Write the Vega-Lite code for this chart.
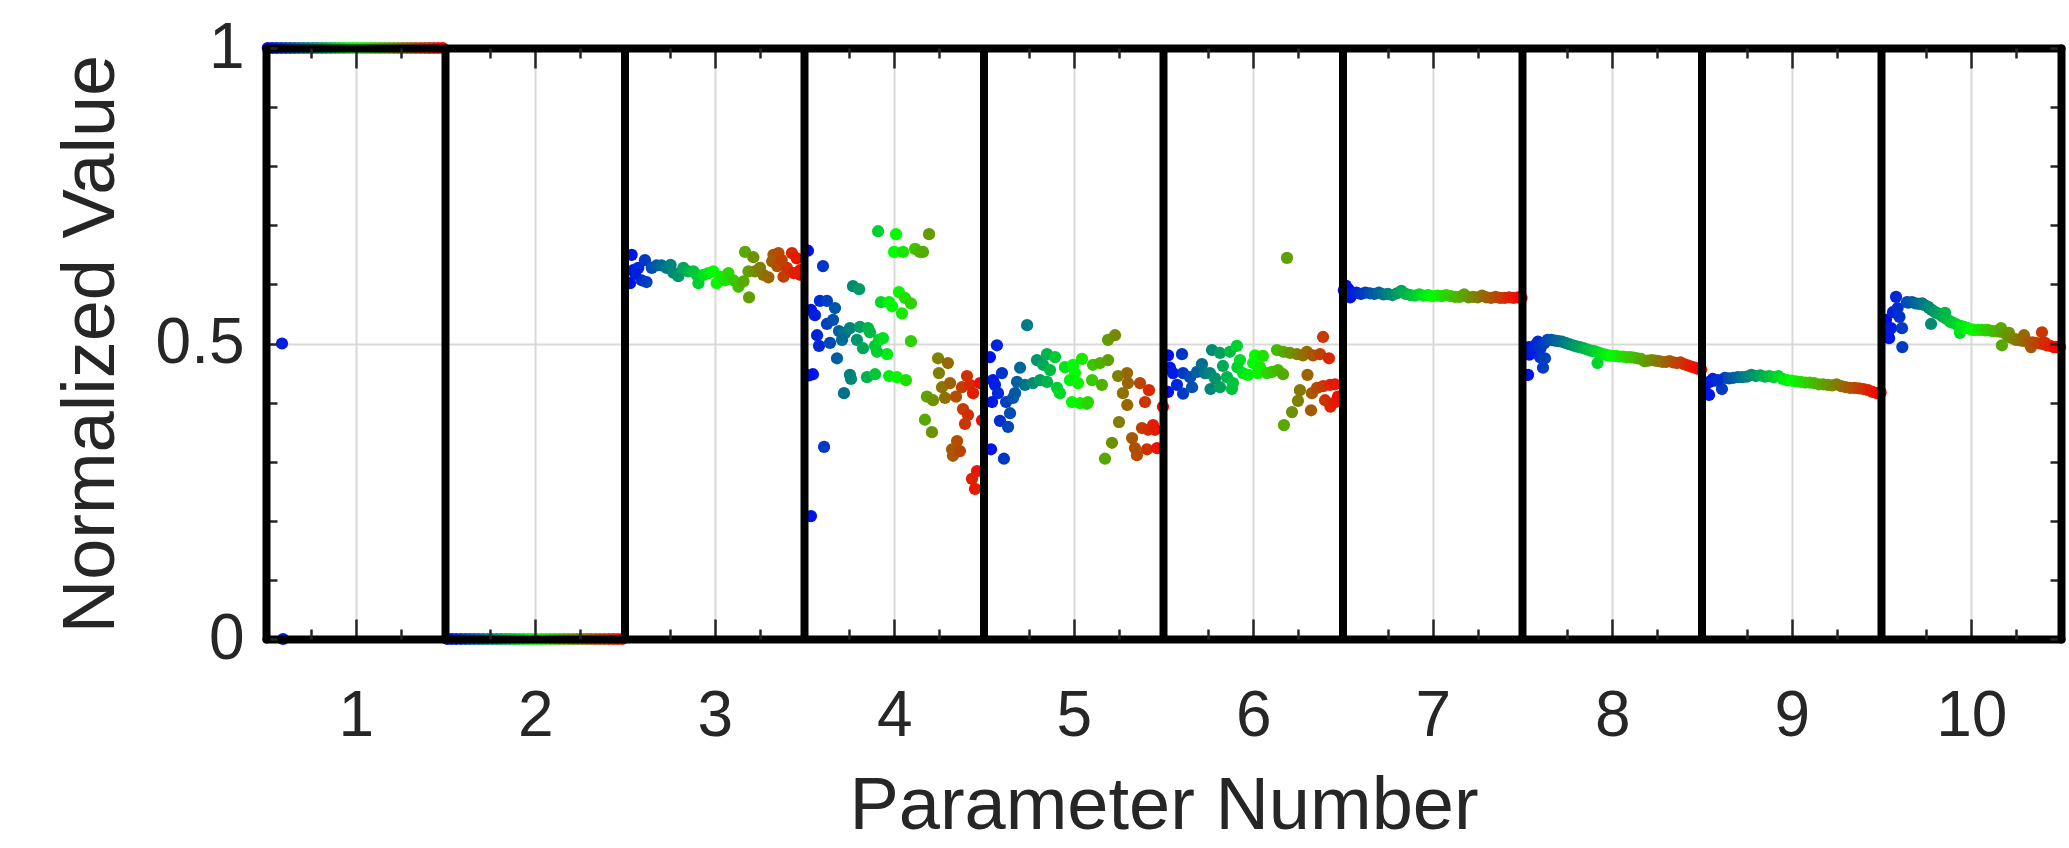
{
"$schema": "https://vega.github.io/schema/vega-lite/v6.json",
"width": 1795, "height": 591,
"autosize": {"type": "none"},
"padding": {"left": 266, "top": 48, "right": 8, "bottom": 209},
"background": "white",
"config": {"view": {"stroke": null}, "font": "Liberation Sans",
  "axis": {"labelFont": "Liberation Sans", "titleFont": "Liberation Sans", "labelColor": "#262626", "titleColor": "#262626", "titleFontWeight": "normal", "tickColor": "#262626", "labelFlush": false, "labelOverlap": false, "labelBound": false}},
"datasets": {
"div": [{"x":1.5},{"x":2.5},{"x":3.5},{"x":4.5},{"x":5.5},{"x":6.5},{"x":7.5},{"x":8.5},{"x":9.5}],
"pts": [
{"x":0.51,"y":1,"t":0.01},{"x":0.535,"y":1,"t":0.035},{"x":0.56,"y":1,"t":0.06},{"x":0.585,"y":1,"t":0.085},{"x":0.61,"y":1,"t":0.11},{"x":0.635,"y":1,"t":0.135},{"x":0.66,"y":1,"t":0.16},{"x":0.685,"y":1,"t":0.185},{"x":0.71,"y":1,"t":0.21},{"x":0.735,"y":1,"t":0.235},{"x":0.76,"y":1,"t":0.26},{"x":0.785,"y":1,"t":0.285},{"x":0.81,"y":1,"t":0.31},{"x":0.835,"y":1,"t":0.335},{"x":0.86,"y":1,"t":0.36},{"x":0.885,"y":1,"t":0.385},{"x":0.91,"y":1,"t":0.41},{"x":0.935,"y":1,"t":0.435},{"x":0.96,"y":1,"t":0.46},{"x":0.985,"y":1,"t":0.485},{"x":1.01,"y":1,"t":0.51},{"x":1.035,"y":1,"t":0.535},{"x":1.06,"y":1,"t":0.56},{"x":1.085,"y":1,"t":0.585},{"x":1.11,"y":1,"t":0.61},{"x":1.135,"y":1,"t":0.635},{"x":1.16,"y":1,"t":0.66},{"x":1.185,"y":1,"t":0.685},{"x":1.21,"y":1,"t":0.71},{"x":1.235,"y":1,"t":0.735},{"x":1.26,"y":1,"t":0.76},{"x":1.285,"y":1,"t":0.785},{"x":1.31,"y":1,"t":0.81},{"x":1.335,"y":1,"t":0.835},{"x":1.36,"y":1,"t":0.86},{"x":1.385,"y":1,"t":0.885},{"x":1.41,"y":1,"t":0.91},{"x":1.435,"y":1,"t":0.935},{"x":1.46,"y":1,"t":0.96},{"x":1.485,"y":1,"t":0.985},
{"x":0.589,"y":0.5,"t":0.06},{"x":0.595,"y":0,"t":0.06},
{"x":1.51,"y":0,"t":0.01},{"x":1.535,"y":0,"t":0.035},{"x":1.56,"y":0,"t":0.06},{"x":1.585,"y":0,"t":0.085},{"x":1.61,"y":0,"t":0.11},{"x":1.635,"y":0,"t":0.135},{"x":1.66,"y":0,"t":0.16},{"x":1.685,"y":0,"t":0.185},{"x":1.71,"y":0,"t":0.21},{"x":1.735,"y":0,"t":0.235},{"x":1.76,"y":0,"t":0.26},{"x":1.785,"y":0,"t":0.285},{"x":1.81,"y":0,"t":0.31},{"x":1.835,"y":0,"t":0.335},{"x":1.86,"y":0,"t":0.36},{"x":1.885,"y":0,"t":0.385},{"x":1.91,"y":0,"t":0.41},{"x":1.935,"y":0,"t":0.435},{"x":1.96,"y":0,"t":0.46},{"x":1.985,"y":0,"t":0.485},{"x":2.01,"y":0,"t":0.51},{"x":2.035,"y":0,"t":0.535},{"x":2.06,"y":0,"t":0.56},{"x":2.085,"y":0,"t":0.585},{"x":2.11,"y":0,"t":0.61},{"x":2.135,"y":0,"t":0.635},{"x":2.16,"y":0,"t":0.66},{"x":2.185,"y":0,"t":0.685},{"x":2.21,"y":0,"t":0.71},{"x":2.235,"y":0,"t":0.735},{"x":2.26,"y":0,"t":0.76},{"x":2.285,"y":0,"t":0.785},{"x":2.31,"y":0,"t":0.81},{"x":2.335,"y":0,"t":0.835},{"x":2.36,"y":0,"t":0.86},{"x":2.385,"y":0,"t":0.885},{"x":2.41,"y":0,"t":0.91},{"x":2.435,"y":0,"t":0.935},{"x":2.46,"y":0,"t":0.96},{"x":2.485,"y":0,"t":0.985},
{"x":2.537,"y":0.65,"t":0.037},{"x":2.546,"y":0.624,"t":0.046},{"x":2.528,"y":0.602,"t":0.028},{"x":2.574,"y":0.628,"t":0.074},{"x":2.611,"y":0.641,"t":0.111},{"x":2.593,"y":0.607,"t":0.093},{"x":2.62,"y":0.604,"t":0.12},{"x":2.556,"y":0.618,"t":0.056},{"x":2.649,"y":0.628,"t":0.149},{"x":2.676,"y":0.632,"t":0.176},{"x":2.704,"y":0.632,"t":0.204},{"x":2.732,"y":0.628,"t":0.232},{"x":2.754,"y":0.633,"t":0.254},{"x":2.769,"y":0.62,"t":0.269},{"x":2.797,"y":0.614,"t":0.297},{"x":2.825,"y":0.628,"t":0.325},{"x":2.853,"y":0.622,"t":0.353},{"x":2.881,"y":0.622,"t":0.381},{"x":2.909,"y":0.602,"t":0.409},{"x":2.9,"y":0.616,"t":0.4},{"x":2.937,"y":0.616,"t":0.437},{"x":2.965,"y":0.619,"t":0.465},{"x":2.992,"y":0.622,"t":0.492},{"x":3.011,"y":0.602,"t":0.511},{"x":3.029,"y":0.613,"t":0.529},{"x":3.057,"y":0.607,"t":0.557},{"x":3.076,"y":0.619,"t":0.576},{"x":3.104,"y":0.607,"t":0.604},{"x":3.132,"y":0.596,"t":0.632},{"x":3.16,"y":0.605,"t":0.66},{"x":3.169,"y":0.655,"t":0.669},{"x":3.215,"y":0.646,"t":0.715},{"x":3.191,"y":0.578,"t":0.691},{"x":3.188,"y":0.622,"t":0.688},{"x":3.224,"y":0.622,"t":0.724},{"x":3.252,"y":0.628,"t":0.752},{"x":3.271,"y":0.616,"t":0.771},{"x":3.299,"y":0.612,"t":0.799},{"x":3.327,"y":0.65,"t":0.827},{"x":3.355,"y":0.653,"t":0.855},{"x":3.32,"y":0.639,"t":0.82},{"x":3.348,"y":0.631,"t":0.848},{"x":3.383,"y":0.613,"t":0.883},{"x":3.402,"y":0.628,"t":0.902},{"x":3.43,"y":0.653,"t":0.93},{"x":3.457,"y":0.644,"t":0.957},{"x":3.475,"y":0.624,"t":0.975},{"x":3.478,"y":0.616,"t":0.978},{"x":3.44,"y":0.619,"t":0.94},{"x":3.373,"y":0.641,"t":0.873},
{"x":3.519,"y":0.657,"t":0.019},{"x":3.603,"y":0.631,"t":0.103},{"x":3.536,"y":0.557,"t":0.036},{"x":3.558,"y":0.548,"t":0.058},{"x":3.586,"y":0.572,"t":0.086},{"x":3.625,"y":0.572,"t":0.125},{"x":3.67,"y":0.56,"t":0.17},{"x":3.57,"y":0.514,"t":0.07},{"x":3.581,"y":0.496,"t":0.081},{"x":3.625,"y":0.533,"t":0.125},{"x":3.659,"y":0.54,"t":0.159},{"x":3.642,"y":0.501,"t":0.142},{"x":3.681,"y":0.475,"t":0.181},{"x":3.547,"y":0.448,"t":0.047},{"x":3.525,"y":0.446,"t":0.025},{"x":3.609,"y":0.325,"t":0.109},{"x":3.536,"y":0.208,"t":0.036},{"x":3.692,"y":0.521,"t":0.192},{"x":3.726,"y":0.518,"t":0.226},{"x":3.709,"y":0.506,"t":0.209},{"x":3.77,"y":0.597,"t":0.27},{"x":3.804,"y":0.592,"t":0.304},{"x":3.753,"y":0.526,"t":0.253},{"x":3.809,"y":0.528,"t":0.309},{"x":3.854,"y":0.526,"t":0.354},{"x":3.792,"y":0.506,"t":0.292},{"x":3.826,"y":0.492,"t":0.326},{"x":3.753,"y":0.447,"t":0.253},{"x":3.759,"y":0.44,"t":0.259},{"x":3.72,"y":0.416,"t":0.22},{"x":3.865,"y":0.519,"t":0.365},{"x":3.893,"y":0.496,"t":0.393},{"x":3.915,"y":0.506,"t":0.415},{"x":3.937,"y":0.509,"t":0.437},{"x":3.96,"y":0.482,"t":0.46},{"x":3.904,"y":0.486,"t":0.404},{"x":3.848,"y":0.443,"t":0.348},{"x":3.893,"y":0.448,"t":0.393},{"x":3.91,"y":0.69,"t":0.41},{"x":4.01,"y":0.685,"t":0.51},{"x":3.999,"y":0.655,"t":0.499},{"x":4.049,"y":0.655,"t":0.549},{"x":4.116,"y":0.66,"t":0.616},{"x":4.143,"y":0.655,"t":0.643},{"x":4.16,"y":0.655,"t":0.66},{"x":4.194,"y":0.685,"t":0.694},{"x":3.926,"y":0.57,"t":0.426},{"x":3.971,"y":0.57,"t":0.471},{"x":3.988,"y":0.563,"t":0.488},{"x":4.026,"y":0.587,"t":0.526},{"x":4.06,"y":0.577,"t":0.56},{"x":4.093,"y":0.568,"t":0.593},{"x":4.043,"y":0.551,"t":0.543},{"x":4.093,"y":0.504,"t":0.593},{"x":3.971,"y":0.445,"t":0.471},{"x":4.015,"y":0.443,"t":0.515},{"x":4.065,"y":0.438,"t":0.565},{"x":4.171,"y":0.371,"t":0.671},{"x":4.21,"y":0.35,"t":0.71},{"x":4.182,"y":0.41,"t":0.682},{"x":4.216,"y":0.404,"t":0.716},{"x":4.244,"y":0.475,"t":0.744},{"x":4.299,"y":0.467,"t":0.799},{"x":4.249,"y":0.45,"t":0.749},{"x":4.266,"y":0.426,"t":0.766},{"x":4.311,"y":0.433,"t":0.811},{"x":4.283,"y":0.408,"t":0.783},{"x":4.344,"y":0.41,"t":0.844},{"x":4.405,"y":0.445,"t":0.905},{"x":4.377,"y":0.426,"t":0.877},{"x":4.422,"y":0.43,"t":0.922},{"x":4.439,"y":0.416,"t":0.939},{"x":4.383,"y":0.389,"t":0.883},{"x":4.411,"y":0.379,"t":0.911},{"x":4.394,"y":0.364,"t":0.894},{"x":4.35,"y":0.335,"t":0.85},{"x":4.322,"y":0.321,"t":0.822},{"x":4.327,"y":0.31,"t":0.827},{"x":4.366,"y":0.318,"t":0.866},{"x":4.461,"y":0.284,"t":0.961},{"x":4.433,"y":0.271,"t":0.933},{"x":4.45,"y":0.254,"t":0.95},{"x":4.478,"y":0.433,"t":0.978},{"x":4.489,"y":0.37,"t":0.989},
{"x":4.533,"y":0.477,"t":0.033},{"x":4.572,"y":0.497,"t":0.072},{"x":4.55,"y":0.438,"t":0.05},{"x":4.6,"y":0.45,"t":0.1},{"x":4.561,"y":0.43,"t":0.061},{"x":4.545,"y":0.401,"t":0.045},{"x":4.578,"y":0.416,"t":0.078},{"x":4.623,"y":0.401,"t":0.123},{"x":4.662,"y":0.408,"t":0.162},{"x":4.673,"y":0.416,"t":0.173},{"x":4.589,"y":0.369,"t":0.089},{"x":4.645,"y":0.382,"t":0.145},{"x":4.634,"y":0.359,"t":0.134},{"x":4.539,"y":0.321,"t":0.039},{"x":4.611,"y":0.305,"t":0.111},{"x":4.74,"y":0.531,"t":0.24},{"x":4.701,"y":0.459,"t":0.201},{"x":4.684,"y":0.435,"t":0.184},{"x":4.728,"y":0.43,"t":0.228},{"x":4.773,"y":0.433,"t":0.273},{"x":4.795,"y":0.472,"t":0.295},{"x":4.851,"y":0.482,"t":0.351},{"x":4.896,"y":0.477,"t":0.396},{"x":4.829,"y":0.464,"t":0.329},{"x":4.868,"y":0.455,"t":0.368},{"x":4.812,"y":0.438,"t":0.312},{"x":4.851,"y":0.435,"t":0.351},{"x":4.907,"y":0.425,"t":0.407},{"x":4.923,"y":0.416,"t":0.423},{"x":4.951,"y":0.46,"t":0.451},{"x":4.996,"y":0.464,"t":0.496},{"x":5.046,"y":0.474,"t":0.546},{"x":5.007,"y":0.45,"t":0.507},{"x":4.979,"y":0.438,"t":0.479},{"x":5.024,"y":0.433,"t":0.524},{"x":4.99,"y":0.401,"t":0.49},{"x":5.035,"y":0.399,"t":0.535},{"x":5.074,"y":0.398,"t":0.574},{"x":5.079,"y":0.401,"t":0.579},{"x":5.107,"y":0.464,"t":0.607},{"x":5.146,"y":0.467,"t":0.646},{"x":5.191,"y":0.472,"t":0.691},{"x":5.102,"y":0.438,"t":0.602},{"x":5.157,"y":0.43,"t":0.657},{"x":5.191,"y":0.506,"t":0.691},{"x":5.23,"y":0.514,"t":0.73},{"x":5.247,"y":0.445,"t":0.747},{"x":5.297,"y":0.45,"t":0.797},{"x":5.274,"y":0.416,"t":0.774},{"x":5.302,"y":0.433,"t":0.802},{"x":5.298,"y":0.396,"t":0.798},{"x":5.252,"y":0.367,"t":0.752},{"x":5.213,"y":0.332,"t":0.713},{"x":5.174,"y":0.305,"t":0.674},{"x":5.369,"y":0.433,"t":0.869},{"x":5.419,"y":0.421,"t":0.919},{"x":5.397,"y":0.401,"t":0.897},{"x":5.38,"y":0.357,"t":0.88},{"x":5.442,"y":0.362,"t":0.942},{"x":5.414,"y":0.354,"t":0.914},{"x":5.453,"y":0.354,"t":0.953},{"x":5.325,"y":0.34,"t":0.825},{"x":5.341,"y":0.323,"t":0.841},{"x":5.352,"y":0.311,"t":0.852},{"x":5.408,"y":0.321,"t":0.908},{"x":5.464,"y":0.323,"t":0.964},{"x":5.497,"y":0.393,"t":0.997},
{"x":5.525,"y":0.48,"t":0.025},{"x":5.603,"y":0.482,"t":0.103},{"x":5.536,"y":0.459,"t":0.036},{"x":5.553,"y":0.45,"t":0.053},{"x":5.525,"y":0.418,"t":0.025},{"x":5.575,"y":0.43,"t":0.075},{"x":5.609,"y":0.415,"t":0.109},{"x":5.659,"y":0.426,"t":0.159},{"x":5.609,"y":0.45,"t":0.109},{"x":5.648,"y":0.443,"t":0.148},{"x":5.687,"y":0.452,"t":0.187},{"x":5.714,"y":0.465,"t":0.214},{"x":5.731,"y":0.45,"t":0.231},{"x":5.77,"y":0.489,"t":0.27},{"x":5.815,"y":0.484,"t":0.315},{"x":5.87,"y":0.486,"t":0.37},{"x":5.909,"y":0.496,"t":0.409},{"x":5.759,"y":0.45,"t":0.259},{"x":5.787,"y":0.441,"t":0.287},{"x":5.762,"y":0.423,"t":0.262},{"x":5.815,"y":0.426,"t":0.315},{"x":5.831,"y":0.462,"t":0.331},{"x":5.881,"y":0.423,"t":0.381},{"x":5.854,"y":0.443,"t":0.354},{"x":5.887,"y":0.433,"t":0.387},{"x":5.912,"y":0.46,"t":0.412},{"x":5.926,"y":0.472,"t":0.426},{"x":5.943,"y":0.45,"t":0.443},{"x":5.971,"y":0.447,"t":0.471},{"x":6.01,"y":0.48,"t":0.51},{"x":6.054,"y":0.479,"t":0.554},{"x":5.999,"y":0.467,"t":0.499},{"x":6.038,"y":0.46,"t":0.538},{"x":6.026,"y":0.45,"t":0.526},{"x":6.077,"y":0.45,"t":0.577},{"x":6.104,"y":0.452,"t":0.604},{"x":6.138,"y":0.455,"t":0.638},{"x":6.166,"y":0.448,"t":0.666},{"x":6.132,"y":0.489,"t":0.632},{"x":6.168,"y":0.486,"t":0.668},{"x":6.205,"y":0.484,"t":0.705},{"x":6.244,"y":0.482,"t":0.744},{"x":6.277,"y":0.48,"t":0.777},{"x":6.299,"y":0.486,"t":0.799},{"x":6.333,"y":0.48,"t":0.833},{"x":6.188,"y":0.645,"t":0.688},{"x":6.372,"y":0.482,"t":0.872},{"x":6.389,"y":0.511,"t":0.889},{"x":6.422,"y":0.475,"t":0.922},{"x":6.302,"y":0.447,"t":0.802},{"x":6.26,"y":0.421,"t":0.76},{"x":6.249,"y":0.403,"t":0.749},{"x":6.216,"y":0.384,"t":0.716},{"x":6.171,"y":0.362,"t":0.671},{"x":6.327,"y":0.416,"t":0.827},{"x":6.355,"y":0.425,"t":0.855},{"x":6.389,"y":0.428,"t":0.889},{"x":6.428,"y":0.43,"t":0.928},{"x":6.455,"y":0.431,"t":0.955},{"x":6.322,"y":0.387,"t":0.822},{"x":6.4,"y":0.404,"t":0.9},{"x":6.43,"y":0.393,"t":0.93},{"x":6.457,"y":0.401,"t":0.957},{"x":6.472,"y":0.41,"t":0.972},
{"x":6.505,"y":0.59,"t":0.005},{"x":6.515,"y":0.598,"t":0.015},{"x":6.52,"y":0.58,"t":0.02},{"x":6.53,"y":0.592,"t":0.03},{"x":6.54,"y":0.578,"t":0.04},{"x":6.55,"y":0.584,"t":0.05},{"x":6.575,"y":0.586,"t":0.075},{"x":6.6,"y":0.584,"t":0.1},{"x":6.625,"y":0.586,"t":0.125},{"x":6.65,"y":0.585,"t":0.15},{"x":6.675,"y":0.584,"t":0.175},{"x":6.7,"y":0.586,"t":0.2},{"x":6.725,"y":0.583,"t":0.225},{"x":6.75,"y":0.584,"t":0.25},{"x":6.775,"y":0.582,"t":0.275},{"x":6.8,"y":0.585,"t":0.3},{"x":6.825,"y":0.589,"t":0.325},{"x":6.85,"y":0.584,"t":0.35},{"x":6.875,"y":0.582,"t":0.375},{"x":6.9,"y":0.581,"t":0.4},{"x":6.925,"y":0.583,"t":0.425},{"x":6.95,"y":0.581,"t":0.45},{"x":6.975,"y":0.582,"t":0.475},{"x":7.0,"y":0.58,"t":0.5},{"x":7.025,"y":0.581,"t":0.525},{"x":7.05,"y":0.58,"t":0.55},{"x":7.075,"y":0.582,"t":0.575},{"x":7.1,"y":0.58,"t":0.6},{"x":7.125,"y":0.579,"t":0.625},{"x":7.15,"y":0.579,"t":0.65},{"x":7.175,"y":0.583,"t":0.675},{"x":7.2,"y":0.578,"t":0.7},{"x":7.225,"y":0.579,"t":0.725},{"x":7.25,"y":0.578,"t":0.75},{"x":7.275,"y":0.581,"t":0.775},{"x":7.3,"y":0.578,"t":0.8},{"x":7.325,"y":0.577,"t":0.825},{"x":7.35,"y":0.579,"t":0.85},{"x":7.375,"y":0.577,"t":0.875},{"x":7.4,"y":0.577,"t":0.9},{"x":7.425,"y":0.578,"t":0.925},{"x":7.45,"y":0.577,"t":0.95},{"x":7.475,"y":0.578,"t":0.975},{"x":7.495,"y":0.577,"t":0.995},
{"x":7.52,"y":0.488,"t":0.02},{"x":7.531,"y":0.447,"t":0.031},{"x":7.536,"y":0.494,"t":0.036},{"x":7.538,"y":0.481,"t":0.038},{"x":7.553,"y":0.49,"t":0.053},{"x":7.57,"y":0.497,"t":0.07},{"x":7.586,"y":0.503,"t":0.086},{"x":7.597,"y":0.477,"t":0.097},{"x":7.614,"y":0.459,"t":0.114},{"x":7.625,"y":0.475,"t":0.125},{"x":7.6,"y":0.492,"t":0.1},{"x":7.62,"y":0.5,"t":0.12},{"x":7.64,"y":0.506,"t":0.14},{"x":7.66,"y":0.506,"t":0.16},{"x":7.68,"y":0.505,"t":0.18},{"x":7.7,"y":0.504,"t":0.2},{"x":7.72,"y":0.503,"t":0.22},{"x":7.74,"y":0.501,"t":0.24},{"x":7.76,"y":0.499,"t":0.26},{"x":7.78,"y":0.497,"t":0.28},{"x":7.8,"y":0.495,"t":0.3},{"x":7.82,"y":0.494,"t":0.32},{"x":7.84,"y":0.492,"t":0.34},{"x":7.86,"y":0.49,"t":0.36},{"x":7.88,"y":0.488,"t":0.38},{"x":7.9,"y":0.487,"t":0.4},{"x":7.918,"y":0.467,"t":0.418},{"x":7.92,"y":0.485,"t":0.42},{"x":7.94,"y":0.483,"t":0.44},{"x":7.96,"y":0.481,"t":0.46},{"x":7.98,"y":0.48,"t":0.48},{"x":8.0,"y":0.479,"t":0.5},{"x":8.02,"y":0.479,"t":0.52},{"x":8.04,"y":0.478,"t":0.54},{"x":8.06,"y":0.478,"t":0.56},{"x":8.08,"y":0.477,"t":0.58},{"x":8.1,"y":0.477,"t":0.6},{"x":8.12,"y":0.476,"t":0.62},{"x":8.14,"y":0.475,"t":0.64},{"x":8.16,"y":0.474,"t":0.66},{"x":8.18,"y":0.47,"t":0.68},{"x":8.2,"y":0.471,"t":0.7},{"x":8.22,"y":0.472,"t":0.72},{"x":8.24,"y":0.471,"t":0.74},{"x":8.26,"y":0.47,"t":0.76},{"x":8.28,"y":0.469,"t":0.78},{"x":8.3,"y":0.469,"t":0.8},{"x":8.32,"y":0.47,"t":0.82},{"x":8.34,"y":0.468,"t":0.84},{"x":8.36,"y":0.467,"t":0.86},{"x":8.38,"y":0.468,"t":0.88},{"x":8.4,"y":0.465,"t":0.9},{"x":8.42,"y":0.463,"t":0.92},{"x":8.44,"y":0.461,"t":0.94},{"x":8.46,"y":0.459,"t":0.96},{"x":8.48,"y":0.457,"t":0.98},{"x":8.495,"y":0.456,"t":0.995},
{"x":8.517,"y":0.428,"t":0.017},{"x":8.539,"y":0.413,"t":0.039},{"x":8.541,"y":0.435,"t":0.041},{"x":8.572,"y":0.437,"t":0.072},{"x":8.611,"y":0.423,"t":0.111},{"x":8.628,"y":0.442,"t":0.128},{"x":8.56,"y":0.44,"t":0.06},{"x":8.59,"y":0.438,"t":0.09},{"x":8.65,"y":0.441,"t":0.15},{"x":8.675,"y":0.442,"t":0.175},{"x":8.7,"y":0.443,"t":0.2},{"x":8.725,"y":0.443,"t":0.225},{"x":8.75,"y":0.444,"t":0.25},{"x":8.775,"y":0.447,"t":0.275},{"x":8.8,"y":0.445,"t":0.3},{"x":8.825,"y":0.446,"t":0.325},{"x":8.85,"y":0.444,"t":0.35},{"x":8.875,"y":0.445,"t":0.375},{"x":8.9,"y":0.443,"t":0.4},{"x":8.925,"y":0.445,"t":0.425},{"x":8.95,"y":0.44,"t":0.45},{"x":8.975,"y":0.438,"t":0.475},{"x":9.0,"y":0.437,"t":0.5},{"x":9.025,"y":0.436,"t":0.525},{"x":9.05,"y":0.435,"t":0.55},{"x":9.075,"y":0.434,"t":0.575},{"x":9.1,"y":0.434,"t":0.6},{"x":9.125,"y":0.433,"t":0.625},{"x":9.15,"y":0.431,"t":0.65},{"x":9.175,"y":0.431,"t":0.675},{"x":9.2,"y":0.43,"t":0.7},{"x":9.225,"y":0.429,"t":0.725},{"x":9.25,"y":0.431,"t":0.75},{"x":9.275,"y":0.428,"t":0.775},{"x":9.3,"y":0.426,"t":0.8},{"x":9.325,"y":0.425,"t":0.825},{"x":9.35,"y":0.425,"t":0.85},{"x":9.375,"y":0.424,"t":0.875},{"x":9.4,"y":0.423,"t":0.9},{"x":9.425,"y":0.421,"t":0.925},{"x":9.45,"y":0.418,"t":0.95},{"x":9.475,"y":0.416,"t":0.975},{"x":9.495,"y":0.417,"t":0.995},
{"x":9.525,"y":0.54,"t":0.025},{"x":9.536,"y":0.518,"t":0.036},{"x":9.542,"y":0.509,"t":0.042},{"x":9.553,"y":0.526,"t":0.053},{"x":9.564,"y":0.553,"t":0.064},{"x":9.581,"y":0.579,"t":0.081},{"x":9.614,"y":0.526,"t":0.114},{"x":9.616,"y":0.494,"t":0.116},{"x":9.59,"y":0.56,"t":0.09},{"x":9.6,"y":0.545,"t":0.1},{"x":9.642,"y":0.57,"t":0.142},{"x":9.65,"y":0.569,"t":0.15},{"x":9.67,"y":0.57,"t":0.17},{"x":9.69,"y":0.568,"t":0.19},{"x":9.71,"y":0.567,"t":0.21},{"x":9.726,"y":0.568,"t":0.226},{"x":9.74,"y":0.565,"t":0.24},{"x":9.76,"y":0.562,"t":0.26},{"x":9.765,"y":0.56,"t":0.265},{"x":9.776,"y":0.533,"t":0.276},{"x":9.78,"y":0.557,"t":0.28},{"x":9.8,"y":0.553,"t":0.3},{"x":9.804,"y":0.552,"t":0.304},{"x":9.82,"y":0.55,"t":0.32},{"x":9.84,"y":0.546,"t":0.34},{"x":9.854,"y":0.552,"t":0.354},{"x":9.86,"y":0.542,"t":0.36},{"x":9.88,"y":0.538,"t":0.38},{"x":9.887,"y":0.536,"t":0.387},{"x":9.9,"y":0.535,"t":0.4},{"x":9.92,"y":0.532,"t":0.42},{"x":9.937,"y":0.518,"t":0.437},{"x":9.94,"y":0.53,"t":0.44},{"x":9.948,"y":0.528,"t":0.448},{"x":9.96,"y":0.528,"t":0.46},{"x":9.98,"y":0.526,"t":0.48},{"x":10.0,"y":0.524,"t":0.5},{"x":10.01,"y":0.523,"t":0.51},{"x":10.02,"y":0.523,"t":0.52},{"x":10.04,"y":0.523,"t":0.54},{"x":10.06,"y":0.523,"t":0.56},{"x":10.08,"y":0.522,"t":0.58},{"x":10.088,"y":0.523,"t":0.588},{"x":10.1,"y":0.522,"t":0.6},{"x":10.12,"y":0.521,"t":0.62},{"x":10.14,"y":0.521,"t":0.64},{"x":10.16,"y":0.52,"t":0.66},{"x":10.166,"y":0.526,"t":0.666},{"x":10.171,"y":0.497,"t":0.671},{"x":10.18,"y":0.519,"t":0.68},{"x":10.2,"y":0.514,"t":0.7},{"x":10.21,"y":0.518,"t":0.71},{"x":10.22,"y":0.51,"t":0.72},{"x":10.24,"y":0.508,"t":0.74},{"x":10.249,"y":0.506,"t":0.749},{"x":10.26,"y":0.506,"t":0.76},{"x":10.28,"y":0.505,"t":0.78},{"x":10.294,"y":0.514,"t":0.794},{"x":10.3,"y":0.504,"t":0.8},{"x":10.32,"y":0.502,"t":0.82},{"x":10.333,"y":0.494,"t":0.833},{"x":10.34,"y":0.502,"t":0.84},{"x":10.36,"y":0.501,"t":0.86},{"x":10.38,"y":0.5,"t":0.88},{"x":10.394,"y":0.519,"t":0.894},{"x":10.4,"y":0.499,"t":0.9},{"x":10.411,"y":0.501,"t":0.911},{"x":10.42,"y":0.497,"t":0.92},{"x":10.44,"y":0.496,"t":0.94},{"x":10.46,"y":0.494,"t":0.96},{"x":10.472,"y":0.494,"t":0.972},{"x":10.48,"y":0.494,"t":0.98},{"x":10.495,"y":0.494,"t":0.995}
]},
"layer": [
{
 "data": {"name": "pts"},
 "mark": {"type": "point", "filled": true, "size": 150, "opacity": 1, "strokeWidth": 0},
 "encoding": {
  "x": {"field": "x", "type": "quantitative", "scale": {"domain": [0.5, 10.5], "nice": false, "zero": false},
   "axis": {"orient": "bottom", "values": [1,2,3,4,5,6,7,8,9,10], "grid": true, "gridColor": "#d9d9d9", "gridWidth": 2, "ticks": false, "domain": false, "labelFontSize": 64, "labelPadding": 96, "labelBaseline": "alphabetic", "title": "Parameter Number", "titleFontSize": 74, "titleX": 897.5, "titleY": 189, "titleBaseline": "alphabetic", "titleAlign": "center", "zindex": 0}},
  "y": {"field": "y", "type": "quantitative", "scale": {"domain": [0, 1], "nice": false, "zero": false},
   "axis": {"orient": "left", "values": [0, 0.5, 1], "grid": true, "gridColor": "#d9d9d9", "gridWidth": 2, "ticks": false, "domain": false, "labelExpr": "datum.value == 0.5 ? '0.5' : (datum.value == 1 ? '1' : '0')", "labelFontSize": 64, "labelPadding": 22, "labelAlign": "right", "labelBaseline": "middle", "title": "Normalized Value", "titleFontSize": 74, "titleX": -153, "titleY": 295.5, "titleAngle": 270, "titleBaseline": "alphabetic", "titleAlign": "center", "zindex": 0}},
  "color": {"field": "t", "type": "quantitative", "scale": {"domain": [0, 0.5, 1], "range": ["#0000ff", "#00ff00", "#ff0000"], "interpolate": "rgb"}, "legend": null}
 }
},
{
 "data": {"name": "div"},
 "mark": {"type": "rule", "color": "black", "strokeWidth": 8},
 "encoding": {
  "x": {"field": "x", "type": "quantitative", "scale": {"domain": [0.5, 10.5], "nice": false, "zero": false},
   "axis": {"orient": "bottom", "values": [1,2,3,4,5,6,7,8,9,10], "grid": false, "labels": false, "ticks": true, "tickSize": -20, "tickWidth": 2.5, "domain": true, "domainColor": "black", "domainWidth": 8, "domainCap": "round", "title": null, "zindex": 1}},
  "y": {"datum": 0, "type": "quantitative", "scale": {"domain": [0, 1], "nice": false, "zero": false},
   "axis": {"orient": "left", "values": [0,0.1,0.2,0.3,0.4,0.5,0.6,0.7,0.8,0.9,1], "grid": false, "labels": false, "ticks": true, "tickSize": -11, "tickWidth": 2.5, "domain": true, "domainColor": "black", "domainWidth": 8, "domainCap": "round", "title": null, "zindex": 1}},
  "y2": {"datum": 1}
 }
},
{
 "data": {"name": "div"},
 "mark": {"type": "point", "opacity": 0},
 "encoding": {
  "x": {"field": "x", "type": "quantitative", "scale": {"domain": [0.5, 10.5], "nice": false, "zero": false},
   "axis": {"orient": "bottom", "values": [0.75,1.25,1.75,2.25,2.75,3.25,3.75,4.25,4.75,5.25,5.75,6.25,6.75,7.25,7.75,8.25,8.75,9.25,9.75,10.25], "grid": false, "labels": false, "ticks": true, "tickSize": -10, "tickWidth": 2.5, "domain": false, "title": null, "zindex": 1}},
  "y": {"datum": 0.5, "type": "quantitative", "scale": {"domain": [0, 1], "nice": false, "zero": false},
   "axis": {"orient": "right", "values": [0,0.1,0.2,0.3,0.4,0.5,0.6,0.7,0.8,0.9,1], "grid": false, "labels": false, "ticks": true, "tickSize": -11, "tickWidth": 2.5, "domain": true, "domainColor": "black", "domainWidth": 8, "domainCap": "round", "title": null, "zindex": 1}}
 }
},
{
 "data": {"name": "div"},
 "mark": {"type": "point", "opacity": 0},
 "encoding": {
  "x": {"field": "x", "type": "quantitative", "scale": {"domain": [0.5, 10.5], "nice": false, "zero": false},
   "axis": {"orient": "top", "values": [1,2,3,4,5,6,7,8,9,10], "grid": false, "labels": false, "ticks": true, "tickSize": -20, "tickWidth": 2.5, "domain": true, "domainColor": "black", "domainWidth": 8, "domainCap": "round", "title": null, "zindex": 1}},
  "y": {"datum": 0.5, "type": "quantitative", "scale": {"domain": [0, 1], "nice": false, "zero": false}, "axis": null}
 }
},
{
 "data": {"name": "div"},
 "mark": {"type": "point", "opacity": 0},
 "encoding": {
  "x": {"field": "x", "type": "quantitative", "scale": {"domain": [0.5, 10.5], "nice": false, "zero": false},
   "axis": {"orient": "top", "values": [0.75,1.25,1.75,2.25,2.75,3.25,3.75,4.25,4.75,5.25,5.75,6.25,6.75,7.25,7.75,8.25,8.75,9.25,9.75,10.25], "grid": false, "labels": false, "ticks": true, "tickSize": -10, "tickWidth": 2.5, "domain": false, "title": null, "zindex": 1}},
  "y": {"datum": 0.5, "type": "quantitative", "scale": {"domain": [0, 1], "nice": false, "zero": false}, "axis": null}
 }
}
],
"resolve": {"axis": {"x": "independent", "y": "independent"}}
}
